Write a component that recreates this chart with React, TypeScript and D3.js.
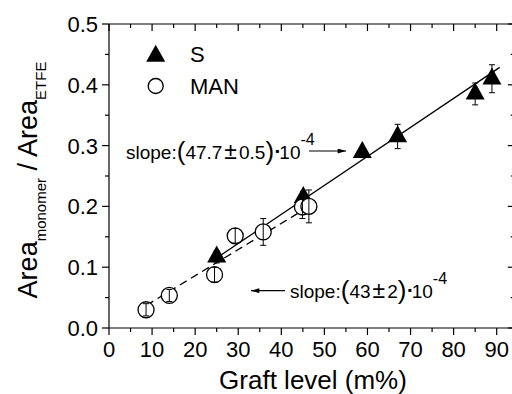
import React from "react";
import * as d3 from "d3";

// Graft level (m%) and peak-area ratio for the two monomers
const sGraft = [25.0, 45.1, 58.8, 67.0, 85.0, 88.9];
const sRatio = [0.117, 0.215, 0.289, 0.315, 0.385, 0.41];
const sErr = [0.01, 0.01, 0.008, 0.02, 0.018, 0.023];

const manGraft = [8.6, 14.0, 24.5, 29.3, 35.8, 44.9, 46.4];
const manRatio = [0.03, 0.0535, 0.0877, 0.1516, 0.158, 0.199, 0.2];
const manErr = [0.01, 0.01, 0.012, 0.012, 0.022, 0.019, 0.027];

// Linear fits: slope and intercept, plus the graft range they span
const sFit = { slope: 0.00477, intercept: -0.004, from: 25, to: 90.7 };
const manFit = { slope: 0.0043, intercept: 0.0, from: 8.7, to: 47 };

const xMajor = [0, 10, 20, 30, 40, 50, 60, 70, 80, 90];
const xMinor = [5, 15, 25, 35, 45, 55, 65, 75, 85];
const yMajor = [0, 0.1, 0.2, 0.3, 0.4, 0.5];
const yMinor = [0.05, 0.15, 0.25, 0.35, 0.45];

const FONT = "'Liberation Sans', Arial, Helvetica, sans-serif";
const W = 512;
const H = 394;

const x = d3.scaleLinear().domain([0, 94.2]).range([109, 109 + 94.2 * 4.3078]);
const y = d3.scaleLinear().domain([0, 0.5]).range([328, 24]);

const TRI_W = 19;
const TRI_H = 17;
const triangle = (cx: number, cy: number) => {
  // centroid sits on the data point
  const top = cy - (2 * TRI_H) / 3;
  const base = cy + TRI_H / 3;
  return `M${cx},${top}L${cx + TRI_W / 2},${base}L${cx - TRI_W / 2},${base}Z`;
};

const fitLine = (f: { slope: number; intercept: number; from: number; to: number }) =>
  d3
    .line<number>()
    .x((g) => x(g))
    .y((g) => y(f.slope * g + f.intercept))([f.from, f.to]) || "";

function ErrorBar({ gx, v, e }: { gx: number; v: number; e: number }) {
  const cx = x(gx);
  const y1 = y(v + e);
  const y2 = y(v - e);
  return (
    <g stroke="#000" strokeWidth={1}>
      <line x1={cx} x2={cx} y1={y1} y2={y2} />
      <line x1={cx - 3} x2={cx + 3} y1={y1} y2={y1} />
      <line x1={cx - 3} x2={cx + 3} y1={y2} y2={y2} />
    </g>
  );
}

function Slope({ x0, y0, value, err }: { x0: number; y0: number; value: string; err: string }) {
  return (
    <text x={x0} y={y0} fontSize={19}>
      slope:
      <tspan fontSize={26} dy={1}>(</tspan>
      <tspan dy={-1}>{value}</tspan>
      <tspan fontSize={23} dx={2}>±</tspan>
      <tspan dx={2}>{err}</tspan>
      <tspan fontSize={26} dy={1}>)</tspan>
      <tspan fontSize={12} dy={-5} dx={1}>▪</tspan>
      <tspan dy={4}>10</tspan>
      <tspan fontSize={16} dy={-14}>-4</tspan>
    </text>
  );
}

export default function App() {
  const left = x.range()[0];
  const right = x.range()[1];
  const top = y.range()[1];
  const bottom = y.range()[0];
  const MAJ = 7;
  const MIN = 4;

  return (
    <svg
      width={W}
      height={H}
      style={{ position: "absolute", left: 0, top: 0, background: "#fff" }}
      fontFamily={FONT}
    >
      <rect x={0} y={0} width={W} height={H} fill="#fff" />

      {/* frame */}
      <g stroke="#000" strokeWidth={1.2} fill="none">
        <line x1={left} x2={right} y1={bottom} y2={bottom} />
        <line x1={left} x2={right} y1={top} y2={top} />
        <line x1={left} x2={left} y1={top} y2={bottom} />
        <line x1={right} x2={right} y1={top} y2={bottom} />
        {xMajor.map((t) => (
          <g key={`xm${t}`}>
            <line x1={x(t)} x2={x(t)} y1={bottom} y2={bottom + MAJ} />
            <line x1={x(t)} x2={x(t)} y1={top} y2={top + MAJ} />
          </g>
        ))}
        {xMinor.map((t) => (
          <g key={`xn${t}`}>
            <line x1={x(t)} x2={x(t)} y1={bottom} y2={bottom + MIN} />
            <line x1={x(t)} x2={x(t)} y1={top} y2={top + MIN} />
          </g>
        ))}
        {yMajor.map((t) => (
          <g key={`ym${t}`}>
            <line x1={left - MAJ} x2={left} y1={y(t)} y2={y(t)} />
            <line x1={right - MAJ} x2={right} y1={y(t)} y2={y(t)} />
          </g>
        ))}
        {yMinor.map((t) => (
          <g key={`yn${t}`}>
            <line x1={left - MIN} x2={left} y1={y(t)} y2={y(t)} />
            <line x1={right - MIN} x2={right} y1={y(t)} y2={y(t)} />
          </g>
        ))}
      </g>

      {/* tick labels */}
      <g fontSize={22} fill="#000">
        {xMajor.map((t) => (
          <text key={`xl${t}`} x={x(t)} y={357} textAnchor="middle">
            {t}
          </text>
        ))}
        {yMajor.map((t) => (
          <text key={`yl${t}`} x={98} y={y(t) + 8} textAnchor="end">
            {t.toFixed(1)}
          </text>
        ))}
      </g>

      {/* axis titles */}
      <text x={313} y={389} fontSize={26} textAnchor="middle">
        Graft level (m%)
      </text>
      <text transform="translate(37,180) rotate(-90)" fontSize={27} textAnchor="middle">
        Area
        <tspan fontSize={15} dy={9}>monomer</tspan>
        <tspan dy={-9}> / Area</tspan>
        <tspan fontSize={15} dy={9}>ETFE</tspan>
      </text>

      {/* fit lines */}
      <path d={fitLine(sFit)} stroke="#000" strokeWidth={1.3} fill="none" />
      <path d={fitLine(manFit)} stroke="#000" strokeWidth={1.3} fill="none" strokeDasharray="8,5" />

      {/* S series */}
      {sGraft.map((g, i) => (
        <ErrorBar key={`se${i}`} gx={g} v={sRatio[i]} e={sErr[i]} />
      ))}
      {sGraft.map((g, i) => (
        <path key={`st${i}`} d={triangle(x(g), y(sRatio[i]))} fill="#000" />
      ))}

      {/* MAN series */}
      {manGraft.map((g, i) => (
        <circle key={`mc${i}`} cx={x(g)} cy={y(manRatio[i])} r={8} fill="#fff" stroke="#000" strokeWidth={1.3} />
      ))}
      {manGraft.map((g, i) => (
        <ErrorBar key={`me${i}`} gx={g} v={manRatio[i]} e={manErr[i]} />
      ))}

      {/* legend */}
      <path d={triangle(155.7, 56)} fill="#000" />
      <text x={190} y={62} fontSize={22}>S</text>
      <circle cx={155.7} cy={86} r={7.5} fill="#fff" stroke="#000" strokeWidth={1.3} />
      <text x={190} y={94} fontSize={22}>MAN</text>

      {/* slope annotations */}
      <defs>
        <marker id="ah" viewBox="0 0 10 6" refX={10} refY={3} markerWidth={9} markerHeight={5} orient="auto" markerUnits="userSpaceOnUse">
          <path d="M0,0L10,3L0,6Z" fill="#000" />
        </marker>
      </defs>
      <Slope x0={126} y0={159} value="47.7" err="0.5" />
      <line x1={309} x2={346} y1={151} y2={151} stroke="#000" strokeWidth={1.2} markerEnd="url(#ah)" />

      <Slope x0={290} y0={298} value="43" err="2" />
      <line x1={285} x2={251} y1={290.7} y2={290.7} stroke="#000" strokeWidth={1.2} markerEnd="url(#ah)" />
    </svg>
  );
}
